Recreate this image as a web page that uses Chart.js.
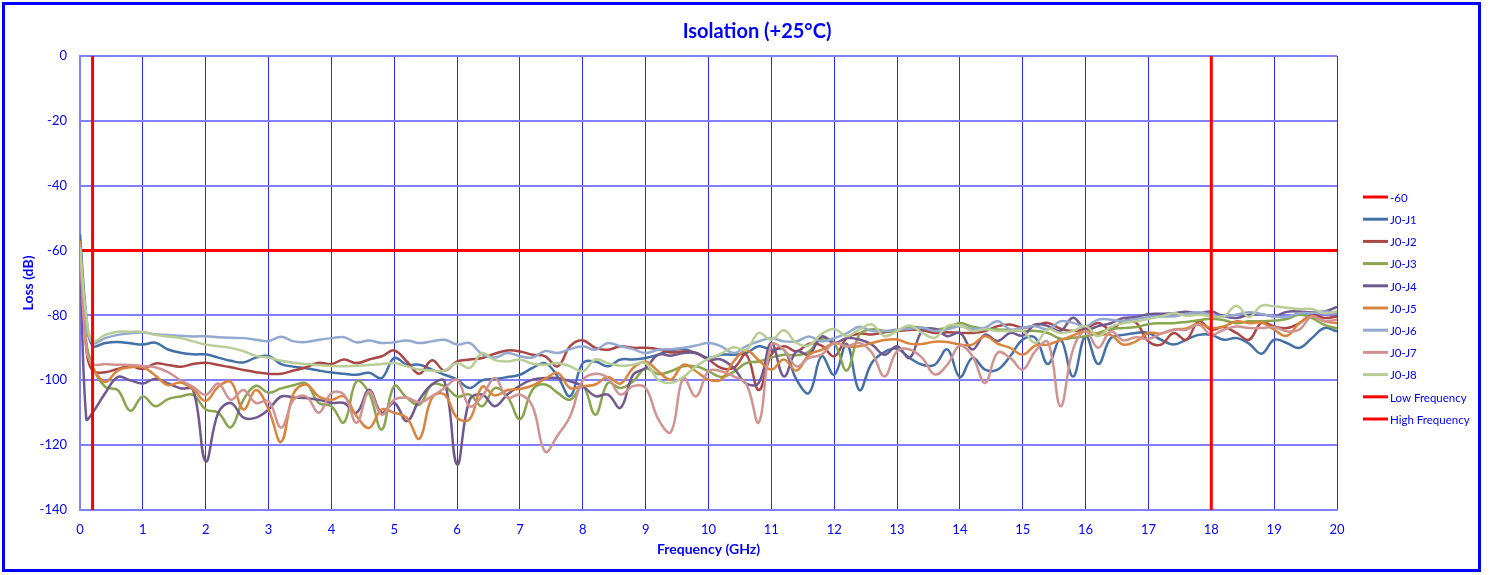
<!DOCTYPE html>
<html>
<head>
<meta charset="utf-8">
<title>Isolation (+25°C)</title>
<script src="https://cdn.jsdelivr.net/npm/chart.js@4.4.1/dist/chart.umd.min.js"></script>
<style>
    html, body { margin: 0; padding: 0; background: #fff; }
    #box { position: relative; width: 1490px; height: 575px; }
</style>
</head>
<body>
<div id="box"><canvas id="isoChart" width="1490" height="575"></canvas></div>
<script>
// Frequency points (GHz)
const freqs = [0, 0.1,
    0.2, 0.4, 0.6, 0.8, 1.0, 1.2, 1.4, 1.6, 1.8, 2.0, 2.2, 2.4, 2.6, 2.8, 3.0, 3.2, 3.4, 3.6, 3.8, 4.0,
    4.2, 4.4, 4.6, 4.8, 5.0, 5.2, 5.4, 5.6, 5.8, 6.0, 6.2, 6.4, 6.6, 6.8, 7.0, 7.2, 7.4, 7.6, 7.8, 8.0,
    8.2, 8.4, 8.6, 8.8, 9.0, 9.2, 9.4, 9.6, 9.8, 10.0, 10.2, 10.4, 10.6, 10.8, 11.0, 11.2, 11.4, 11.6, 11.8, 12.0,
    12.2, 12.4, 12.6, 12.8, 13.0, 13.2, 13.4, 13.6, 13.8, 14.0, 14.2, 14.4, 14.6, 14.8, 15.0, 15.2, 15.4, 15.6, 15.8, 16.0,
    16.2, 16.4, 16.6, 16.8, 17.0, 17.2, 17.4, 17.6, 17.8, 18.0, 18.2, 18.4, 18.6, 18.8, 19.0, 19.2, 19.4, 19.6, 19.8, 20.0];

// Isolation (dB), one row per GHz
const j1 = [-55, -80, -89.4, -88.5, -88.2, -88.6, -89,
    -88.4, -90.5, -91.5, -92, -92,  -93, -94, -94.5, -93, -92.5,  -95, -95.8, -96.3, -97, -97.6,
    -98, -98.3, -97.7, -99.3, -93.1,  -95.2, -95.2, -96.7, -98.3, -99.8,  -102.4, -100, -99.6, -99, -98.3,  -96.2, -94.7, -98.8, -104.9, -94.7,
    -94.2, -95.7, -93.6, -93.6, -93.1,  -92.1, -90.8, -90.4, -91.6, -93.1,  -92.1, -92.1, -91.6, -89.5, -90.6,  -90.6, -99.8, -103.9, -92.6, -98.3,
    -88.8, -103, -94.6, -91.3, -90.3,  -93.1, -95.2, -95.2, -90.5, -99,  -93.1, -96.7, -96.7, -92.6, -87.4,  -86.9, -95, -87.4, -98.8, -86.4,
    -95, -87, -86, -85.4, -85.4,  -87.5, -89, -87.5, -86, -86,  -87.5, -87, -88.7, -91.8, -87.5,  -88.5, -90, -87, -83.9, -84.9];
const j2 = [-57, -90, -97, -97.5, -96.5, -95.6, -96.5,
    -94.8, -95.3, -95.8, -95, -94.6,  -95.3, -96, -96.8, -97.5, -98,  -98, -97, -96, -94.6, -95,
    -93.6, -94.7, -93.6, -92.6, -90.8,  -94.2, -98, -93.8, -97, -94.2,  -93.6, -93.1, -91.8, -90.8, -91.1,  -92.1, -92.6, -95.7, -89.5, -87.7,
    -90, -90.6, -89.5, -90, -90,  -90.4, -91.4, -91.1, -91.6, -93.6,  -96.2, -96.2, -92.1, -103, -92.1,  -89.5, -91.1, -88.7, -89.3, -92.6,
    -87, -85.6, -85.9, -85.2, -84.8,  -84.5, -84.5, -85.4, -85.2, -85.4,  -85.4, -84.8, -83.3, -82.8, -83.8,  -83.1, -82.3, -84.1, -84.8, -84.1,
    -82.3, -84.4, -81.8, -82.2, -88,  -89, -85.4, -87.5, -81.8, -84.4,  -83.6, -85.4, -87.5, -82.2, -83.4,  -83.9, -82.4, -79.8, -80.8, -80.3];
const j3 = [-60, -88, -95.6, -102, -103, -109.4, -105,
    -108, -105.8, -105, -104.5, -109,  -110, -114.5, -106, -101.7, -103.8,  -102.5, -101.5, -101, -107, -108,
    -113, -100.3, -104, -115.2, -101.8,  -105.4, -107.5, -101.3, -101.8, -105,  -104.4, -108, -102.4, -105, -112,  -102.9, -101.3, -103.9, -106, -101.8,
    -110.6, -100.8, -102.4, -100.3, -96.4,  -98.1, -97.2, -95.7, -95.7, -97.2,  -99, -97.4, -94.7, -94.2, -93,  -92.1, -92.3, -91.1, -87.2, -88.5,
    -97, -85.9, -84.3, -84.8, -84.8,  -83.5, -83.8, -84.3, -83.8, -82.3,  -83.5, -84.1, -84.3, -84.6, -84.8,  -84.8, -85.4, -87.2, -86.9, -86.4,
    -85.4, -84.2, -83.9, -83.6, -82.7,  -82.4, -82.4, -82, -81.5, -81,  -81.5, -82.4, -81.8, -81.8, -81.6,  -81.1, -79.8, -80.8, -82.9, -84];
const j4 = [-60, -112, -110, -104, -99, -100, -101,
    -99.5, -101, -102.5, -103, -125,  -110, -107, -111.5, -111.5, -109,  -105, -105.3, -105.5, -106, -107,
    -107, -110, -102.9, -110, -107,  -112.6, -106, -101.3, -100.3, -126,  -106, -104.4, -108, -104.4, -101.6,  -99.8, -99.3, -99.3, -100.3, -101.8,
    -104.9, -104.4, -108.5, -98.3, -96.2,  -92.1, -92.4, -91.6, -91.6, -93.6,  -93.6, -96.2, -101, -100.8, -88.5,  -98.8, -91.1, -92.1, -86.5, -88.5,
    -87, -87.4, -89, -92.1, -89.5,  -93.1, -84.8, -84.1, -86.4, -85.4,  -90.5, -85.9, -87.9, -85.4, -86.2,  -82.8, -83.3, -84.8, -80.7, -84.3,
    -83.3, -82.4, -80.8, -80.5, -79.6,  -79.5, -79.3, -78.9, -79.3, -78.8,  -80.3, -80.8, -79.8, -79.6, -80.3,  -78.9, -78.8, -79.1, -78.8, -77.4];
const j5 = [-57, -90, -96, -100.5, -97, -96, -96,
    -98.5, -101.5, -100.7, -102.8, -106.4,  -102, -100.5, -109, -103, -109,  -119, -104, -101.3, -105, -106,
    -105, -111, -114.7, -109, -110,  -111.6, -118, -105.4, -104.4, -111.6,  -112, -102, -104.7, -103, -102.7,  -101.6, -99.6, -97.7, -102.4, -101.8,
    -101.3, -99, -101, -96.2, -94.3,  -97.2, -99.8, -95.2, -97.2, -99.8,  -99.8, -94.2, -90.8, -93.8, -96.7,  -93.6, -97, -92.1, -90.6, -88.5,
    -89.5, -89.5, -88.5, -87.6, -87.4,  -88.7, -88.8, -88.1, -88.2, -89,  -89, -86.4, -88.7, -90, -92.1,  -89.3, -89, -87.6, -86.2, -84.8,
    -85.9, -86, -89, -88, -85.4,  -85.6, -84.4, -84, -82.6, -83.9,  -83.4, -81.8, -82.4, -82.2, -84.4,  -86.3, -82.4, -80.3, -81.8, -82.4];
const j6 = [-62, -82, -88.5, -87, -86, -85.5, -85.3,
    -85.8, -86, -86.3, -86.5, -86.4,  -86.7, -86.9, -87, -87.5, -87.9,  -86.6, -88, -88.2, -87.5, -87,
    -86.7, -88.3, -87.7, -88.5, -88.3,  -87.7, -88.5, -88, -87.5, -89,  -88.5, -92, -93, -91.6, -92.6,  -93, -91, -91.6, -90.4, -89.5,
    -90.6, -88.5, -89.5, -90.4, -91.6,  -90.6, -90.4, -90, -89.3, -88.5,  -89.5, -91.6, -89.5, -88, -87,  -88, -88, -86.5, -88, -87,
    -85.5, -83.5, -84.8, -84.8, -84.3,  -84.1, -83.8, -84.8, -84.3, -83.3,  -84.1, -83.8, -81.8, -84.3, -83.8,  -83.3, -84.3, -81.8, -82.3, -83.3,
    -81.3, -81.3, -81.8, -81.1, -80.5,  -80.3, -80.3, -79.5, -79, -79.8,  -80.3, -79.8, -79, -79.6, -80.3,  -80.5, -79.3, -79.3, -78.8, -79.3];
const j7 = [-58, -90, -95, -95, -95.2, -95.3, -95.6,
    -96, -97.5, -100, -102, -104.5,  -101, -106, -103, -107, -106.4,  -114.6, -106, -105, -110, -104,
    -104.4, -113.1, -103.4, -110.6, -106,  -105.4, -106.8, -104.9, -102.4, -99.8,  -108, -104.9, -99.3, -105.4, -104.4,  -108, -122, -117, -111, -100,
    -98, -99.3, -104.4, -101.8, -102.4,  -112, -116, -99.3, -105, -97.2,  -97.2, -98.8, -101, -113, -89,  -90.6, -95.7, -93.1, -92.1, -88.5,
    -89.5, -88.5, -91.5, -98.8, -91,  -90.5, -93.1, -98.2, -95.2, -89.3,  -92.6, -100.8, -91.5, -93.1, -96.7,  -91, -88.2, -108, -90.5, -84.8,
    -90, -84.9, -87.7, -86.7, -87.3,  -85.6, -84.4, -84.4, -82.9, -85.9,  -84.4, -83.4, -83.9, -83.9, -83.6,  -84.9, -84.4, -80.3, -81.8, -81.3];
const j8 = [-59, -80, -88, -86, -85, -85, -85,
    -86, -86.5, -87, -88, -89,  -89.5, -90, -91, -92.5, -93,  -94, -94.6, -95, -95.3, -95.6,
    -95.7, -95.5, -95.3, -95, -94.7,  -95.7, -96.7, -97, -97, -94.7,  -96.2, -91.6, -93.8, -94.2, -93.6,  -94.9, -95.2, -94.7, -95.7, -97.2,
    -93.6, -94.7, -95.5, -95.2, -94.7,  -99.8, -100.8, -99, -95.7, -93.4,  -91.8, -89.8, -90.6, -85.4, -87.5,  -84.6, -88.5, -89.2, -85.7, -84.2,
    -86.4, -84.3, -82.8, -86.4, -84.8,  -83.1, -85.4, -86.9, -83.3, -83.1,  -84.8, -84.3, -84.8, -84.8, -84.8,  -88.5, -84.3, -85.4, -84.8, -83.3,
    -86.4, -83.5, -82.4, -81.8, -81.1,  -80.3, -79.3, -80.1, -79.8, -80.3,  -80.3, -77, -80.5, -77, -77.2,  -77.6, -78, -78, -79.3, -78.8];

// Limit and band edges
const limitDb = -60;
const lowFreq = 0.2;
const highFreq = 18;

const seriesNames = ["J0-J1", "J0-J2", "J0-J3", "J0-J4", "J0-J5", "J0-J6", "J0-J7", "J0-J8"];
const seriesValues = [j1, j2, j3, j4, j5, j6, j7, j8];
const seriesColors = ["#4470a8", "#aa4643", "#89a54e", "#71588f", "#db843d", "#93a9cf", "#d19392", "#b9cd96"];

const FONT = "Lato, 'Open Sans', sans-serif";
const BLUE = "#0000ff";

function toPoints(values) {
    return values.map((v, i) => ({ x: freqs[i], y: v }));
}

function buildDatasets() {
    const datasets = [];
    datasets.push({
        label: String(limitDb),
        data: [{ x: 0, y: limitDb }, { x: 20, y: limitDb }],
        borderColor: "#ff0000",
        borderWidth: 3,
        tension: 0,
    });
    seriesNames.forEach((name, i) => {
        datasets.push({
            label: name,
            data: toPoints(seriesValues[i]),
            borderColor: seriesColors[i],
            borderWidth: 2.5,
            tension: 0.4,
        });
    });
    datasets.push({
        label: "Low Frequency",
        data: [{ x: lowFreq, y: 0 }, { x: lowFreq, y: -140 }],
        borderColor: "#ff0000",
        borderWidth: 3,
        tension: 0,
    });
    datasets.push({
        label: "High Frequency",
        data: [{ x: highFreq, y: 0 }, { x: highFreq, y: -140 }],
        borderColor: "#ff0000",
        borderWidth: 3,
        tension: 0,
    });
    // later series on top, like the spreadsheet
    datasets.forEach((ds, i) => {
        ds.order = datasets.length - i;
        ds.pointRadius = 0;
        ds.fill = false;
    });
    return datasets;
}

// Frame, title and legend drawn on the canvas
const framePlugin = {
    id: "frame",
    afterDraw(chart) {
        const ctx = chart.ctx;
        ctx.save();
        ctx.strokeStyle = BLUE;
        ctx.lineWidth = 3;
        ctx.strokeRect(3.5, 3.5, 1476, 567);

        ctx.fillStyle = BLUE;
        ctx.font = "bold 20px " + FONT;
        ctx.textAlign = "center";
        ctx.textBaseline = "middle";
        ctx.fillText("Isolation (+25°C)", 757, 32);

        ctx.font = "11.5px " + FONT;
        ctx.textAlign = "left";
        chart.data.datasets.forEach((ds, i) => {
            const y = 197 + i * 22.2;
            ctx.strokeStyle = ds.borderColor;
            ctx.lineWidth = 3;
            ctx.beginPath();
            ctx.moveTo(1363, y);
            ctx.lineTo(1388, y);
            ctx.stroke();
            ctx.fillText(ds.label, 1390, y + 1);
        });
        ctx.restore();
    },
};

document.addEventListener("DOMContentLoaded", () => {
    const ctx = document.getElementById("isoChart").getContext("2d");
    new Chart(ctx, {
        type: "line",
        data: { datasets: buildDatasets() },
        options: {
            responsive: false,
            animation: false,
            devicePixelRatio: 1,
            layout: { padding: { top: 56, right: 153, left: 0, bottom: 0 } },
            plugins: {
                legend: { display: false },
                title: { display: false },
                tooltip: { enabled: false },
            },
            scales: {
                x: {
                    type: "linear",
                    min: 0,
                    max: 20,
                    afterFit: scale => { scale.height = 65; },
                    ticks: { stepSize: 1, color: BLUE, font: { family: FONT, size: 13 }, padding: 12, maxRotation: 0 },
                    grid: { color: "#2a2aff", lineWidth: 1, drawTicks: false },
                    border: { color: "#8080ff", width: 2 },
                    title: {
                        display: true,
                        text: "Frequency (GHz)",
                        color: BLUE,
                        font: { family: FONT, size: 14, weight: "bold" },
                        padding: { top: 0, bottom: 17 },
                    },
                },
                y: {
                    min: -140,
                    max: 0,
                    afterFit: scale => { scale.width = 80; },
                    ticks: { stepSize: 20, color: BLUE, font: { family: FONT, size: 13 }, padding: 13 },
                    grid: { color: "#8080ff", lineWidth: 2, drawTicks: false },
                    border: { color: "#8080ff", width: 2 },
                    title: {
                        display: true,
                        text: "Loss (dB)",
                        color: BLUE,
                        font: { family: FONT, size: 14, weight: "bold" },
                        padding: { top: 20, bottom: 0 },
                    },
                },
            },
        },
        plugins: [framePlugin],
    });
});
</script>
</body>
</html>
